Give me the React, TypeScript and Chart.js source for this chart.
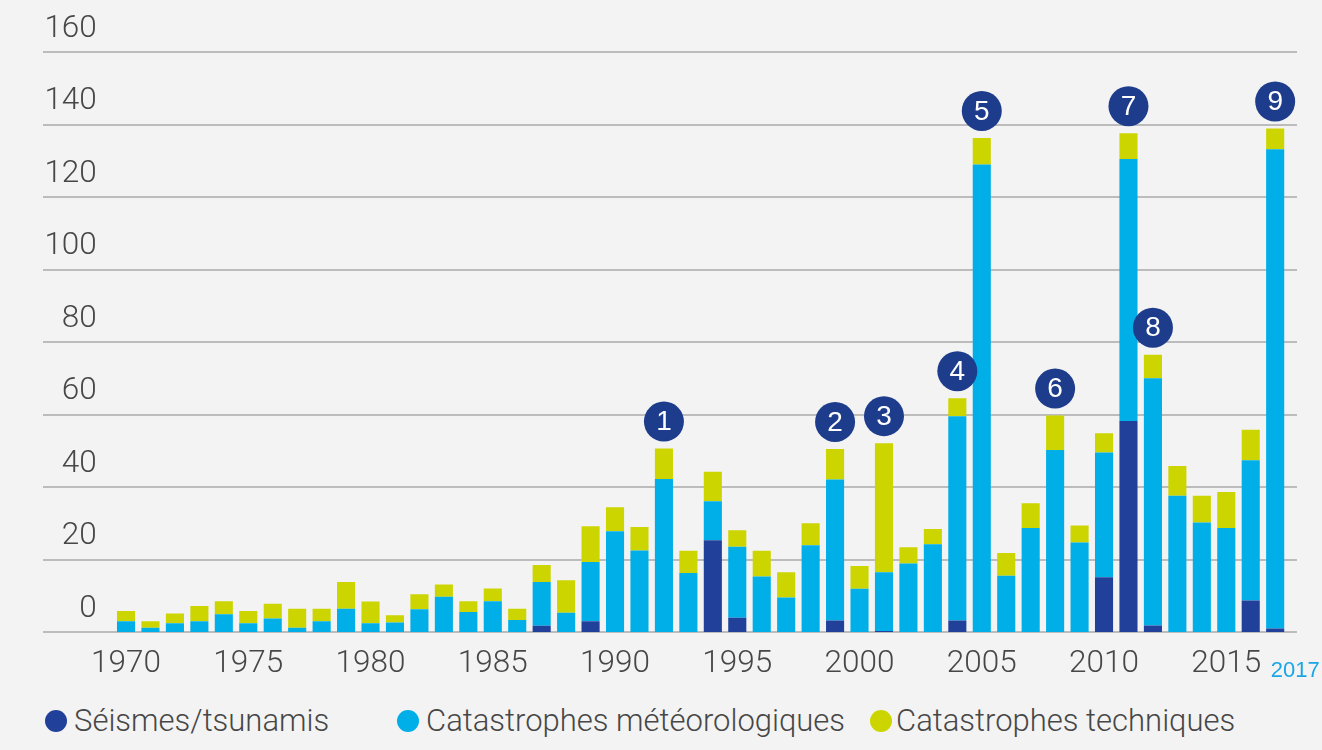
import React, { useEffect, useRef } from 'react';
import { Chart, registerables } from 'chart.js';

Chart.register(...registerables);

const years = [
  '1970', '1971', '1972', '1973', '1974', '1975', '1976', '1977', '1978', '1979',
  '1980', '1981', '1982', '1983', '1984', '1985', '1986', '1987', '1988', '1989',
  '1990', '1991', '1992', '1993', '1994', '1995', '1996', '1997', '1998', '1999',
  '2000', '2001', '2002', '2003', '2004', '2005', '2006', '2007', '2008', '2009',
  '2010', '2011', '2012', '2013', '2014', '2015', '2016', '2017',
];

const seismes = [
  0, 0, 0, 0, 0, 0, 0, 0, 0, 0,
  0, 0, 0, 0, 0, 0, 0, 1.7, 0, 3.0,
  0, 0, 0, 0, 25.3, 3.9, 0, 0, 0, 3.2,
  0, 0.3, 0, 0, 3.2, 0, 0, 0, 0, 0,
  15.1, 58.2, 1.8, 0, 0, 0, 8.7, 1.0,
];

const meteo = [
  3.0, 1.2, 2.4, 3.0, 4.9, 2.4, 3.7, 1.2, 3.0, 6.4,
  2.4, 2.6, 6.3, 9.7, 5.5, 8.5, 3.3, 12.1, 5.3, 16.3,
  27.8, 22.5, 42.2, 16.3, 10.8, 19.6, 15.3, 9.5, 23.9, 38.9,
  11.9, 16.2, 18.9, 24.2, 56.3, 129.0, 15.5, 28.7, 50.2, 24.7,
  34.4, 72.3, 68.2, 37.6, 30.2, 28.7, 38.7, 132.2,
];

const techniques = [
  2.8, 1.8, 2.7, 4.2, 3.6, 3.4, 4.1, 5.2, 3.4, 7.4,
  6.0, 2.0, 4.1, 3.4, 3.0, 3.5, 3.1, 4.7, 9.0, 9.9,
  6.6, 6.5, 8.4, 6.1, 8.1, 4.6, 7.1, 7.0, 6.1, 8.4,
  6.3, 35.6, 4.5, 4.2, 5.0, 7.3, 6.3, 6.8, 9.5, 4.7,
  5.3, 7.1, 6.5, 8.2, 7.4, 9.9, 8.4, 5.7,
];

const xTickLabels = ['1970', '1975', '1980', '1985', '1990', '1995', '2000', '2005', '2010', '2015'];
const highlightedYear = '2017';

const markerYears = ['1992', '1999', '2001', '2004', '2005', '2008', '2011', '2012', '2017'];
const markerLabels = ['1', '2', '3', '4', '5', '6', '7', '8', '9'];

const seriesNames = ['Séismes/tsunamis', 'Catastrophes météorologiques', 'Catastrophes techniques'];
const seriesColors = ['#21409a', '#00aee8', '#cdd500'];

const FONT = "Roboto, 'Liberation Sans', Arial, sans-serif";
const REGULAR = "'Liberation Sans', Arial, sans-serif";
const TEXT = '#474747';
const BG = '#f3f3f3';

const gridPlugin = {
  id: 'fullGrid',
  beforeDatasetsDraw(chart: any) {
    const { ctx, scales } = chart;
    const y = scales.y;
    ctx.save();
    ctx.strokeStyle = '#bcbcbc';
    ctx.lineWidth = 2;
    y.ticks.forEach((t: any) => {
      const py = Math.round(y.getPixelForValue(t.value));
      ctx.beginPath();
      ctx.moveTo(43, py);
      ctx.lineTo(1297, py);
      ctx.stroke();
    });
    ctx.restore();
  },
};

const markersPlugin = {
  id: 'markers',
  afterDatasetsDraw(chart: any) {
    const { ctx, scales } = chart;
    const x = scales.x;
    const y = scales.y;
    ctx.save();
    markerYears.forEach((yr, i) => {
      const idx = years.indexOf(yr);
      const total = seismes[idx] + meteo[idx] + techniques[idx];
      const cx = x.getPixelForValue(idx);
      const cy = y.getPixelForValue(total) - 27;
      ctx.beginPath();
      ctx.arc(cx, cy, 20, 0, Math.PI * 2);
      ctx.fillStyle = '#1e3c8c';
      ctx.fill();
      ctx.fillStyle = '#ffffff';
      ctx.font = `28px ${REGULAR}`;
      ctx.textAlign = 'center';
      ctx.textBaseline = 'middle';
      ctx.fillText(markerLabels[i], cx, cy + 1);
    });
    ctx.restore();
  },
  afterDraw(chart: any) {
    const { ctx, scales } = chart;
    const x = scales.x;
    const idx = years.indexOf(highlightedYear);
    ctx.save();
    ctx.fillStyle = '#1aa6e6';
    ctx.font = `22px ${REGULAR}`;
    ctx.textAlign = 'center';
    ctx.textBaseline = 'alphabetic';
    ctx.fillText(highlightedYear, x.getPixelForValue(idx) + 20, 677);
    ctx.restore();
  },
};

export default function App() {
  const canvasRef = useRef<HTMLCanvasElement | null>(null);

  useEffect(() => {
    if (!canvasRef.current) return;
    const chart = new Chart(canvasRef.current, {
      type: 'bar',
      data: {
        labels: years,
        datasets: [
          { label: seriesNames[0], data: seismes, backgroundColor: seriesColors[0] },
          { label: seriesNames[1], data: meteo, backgroundColor: seriesColors[1] },
          { label: seriesNames[2], data: techniques, backgroundColor: seriesColors[2] },
        ],
      },
      options: {
        animation: false,
        responsive: true,
        maintainAspectRatio: false,
        layout: { padding: { top: 52, left: 0, right: 34.6, bottom: 0 } },
        datasets: { bar: { barPercentage: 0.74, categoryPercentage: 1 } },
        plugins: {
          legend: { display: false },
          tooltip: { enabled: false },
        },
        scales: {
          x: {
            stacked: true,
            grid: { display: false, drawTicks: false },
            border: { display: false },
            afterFit: (s: any) => { s.height = 68; },
            ticks: {
              autoSkip: false,
              maxRotation: 0,
              padding: 13,
              color: TEXT,
              font: { family: FONT, size: 31.5, weight: '300' },
              callback: (_v: any, i: number) => (xTickLabels.includes(years[i]) ? years[i] : ''),
            },
          },
          y: {
            stacked: true,
            min: 0,
            max: 160,
            grid: { display: false, drawTicks: false },
            border: { display: false },
            afterFit: (s: any) => { s.width = 113.8; },
            ticks: {
              stepSize: 20,
              padding: 17,
              labelOffset: -23,
              color: TEXT,
              font: { family: FONT, size: 31.5, weight: '300' },
            },
          },
        },
      },
      plugins: [gridPlugin, markersPlugin],
    });
    return () => chart.destroy();
  }, []);

  const legendDots = [55.5, 408, 881];
  const legendTexts = [74, 426, 896];

  return (
    <div style={{ position: 'fixed', left: 0, top: 0, width: 1322, height: 750, background: BG, overflow: 'hidden' }}>
      <div style={{ position: 'absolute', left: 0, top: 0, width: 1322, height: 700 }}>
        <canvas ref={canvasRef} />
      </div>
      {seriesNames.map((name, i) => (
        <React.Fragment key={name}>
          <div
            style={{
              position: 'absolute',
              left: legendDots[i] - 11,
              top: 721 - 11,
              width: 22,
              height: 22,
              borderRadius: '50%',
              background: seriesColors[i],
            }}
          />
          <div
            style={{
              position: 'absolute',
              left: legendTexts[i],
              top: 703,
              fontFamily: FONT,
              fontWeight: 300,
              fontSize: 31,
              lineHeight: '36px',
              color: TEXT,
              whiteSpace: 'nowrap',
            }}
          >
            {name}
          </div>
        </React.Fragment>
      ))}
    </div>
  );
}
